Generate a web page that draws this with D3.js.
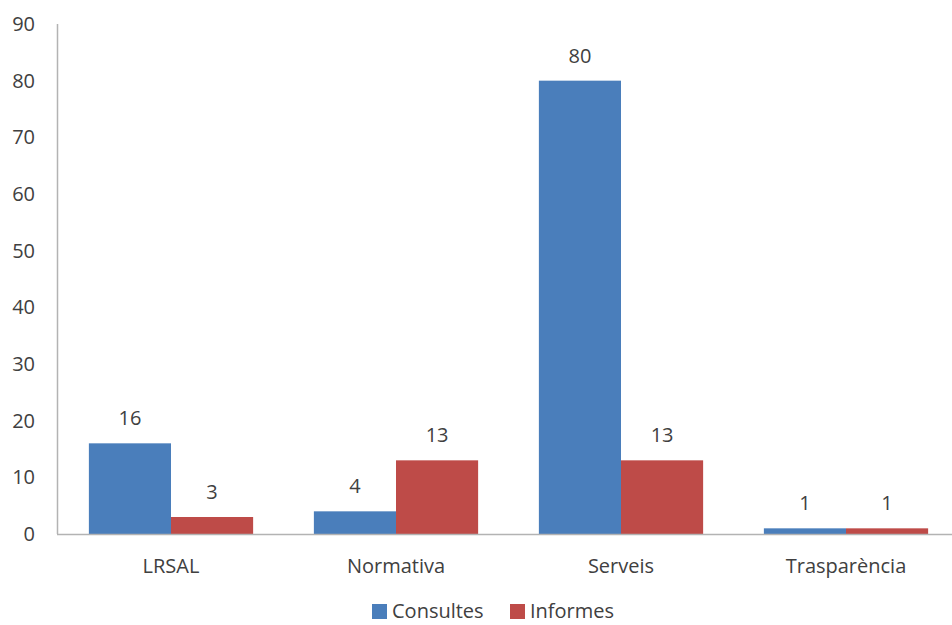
<!DOCTYPE html>
<html>
<head>
<meta charset="utf-8">
<script src="https://cdn.jsdelivr.net/npm/d3@7"></script>
<style>
  body { margin: 0; background: #fff; }
  text { font-family: "Open Sans", sans-serif; fill: #404040; }
</style>
</head>
<body>
<div id="chart"></div>
<script>
var categories = ["LRSAL", "Normativa", "Serveis", "Trasparència"];
var seriesNames = ["Consultes", "Informes"];
var consultes = [16, 4, 80, 1];
var informes = [3, 13, 13, 1];
var yTicks = [0, 10, 20, 30, 40, 50, 60, 70, 80, 90];
var colors = ["#4a7ebb", "#be4b48"];

var width = 952, height = 625;

var data = categories.map(function(c, i) {
  return {cat: c, values: [consultes[i], informes[i]]};
});

var svg = d3.select("#chart").append("svg")
  .attr("width", width)
  .attr("height", height);

// scales
var x0 = d3.scaleBand()
  .domain(categories)
  .range([58.5, 958.5])
  .paddingInner(0.27)
  .paddingOuter(0.135);
var x1 = d3.scaleBand()
  .domain(seriesNames)
  .range([0, x0.bandwidth()]);
var y = d3.scaleLinear()
  .domain([0, 90])
  .range([534, 24]);

// y axis
svg.append("line")
  .attr("x1", 57.5).attr("x2", 57.5)
  .attr("y1", y(90)).attr("y2", y(0))
  .attr("stroke", "#b3b3b3").attr("stroke-width", 1.5);

svg.selectAll(".ytick")
  .data(yTicks)
  .enter().append("text")
  .attr("class", "ytick")
  .attr("x", 35)
  .attr("y", function(d) { return y(d); })
  .attr("dy", "0.35em")
  .attr("text-anchor", "end")
  .style("font-size", "20px")
  .text(function(d) { return d; });

// bars
var groups = svg.selectAll(".grp")
  .data(data)
  .enter().append("g")
  .attr("class", "grp")
  .attr("transform", function(d) { return "translate(" + x0(d.cat) + ",0)"; });

groups.selectAll("rect")
  .data(function(d) { return d.values.map(function(v, i) { return {s: seriesNames[i], v: v, i: i}; }); })
  .enter().append("rect")
  .attr("x", function(d) { return x1(d.s); })
  .attr("width", x1.bandwidth())
  .attr("y", function(d) { return y(d.v); })
  .attr("height", function(d) { return y(0) - y(d.v); })
  .attr("fill", function(d) { return colors[d.i]; });

groups.selectAll(".val")
  .data(function(d) { return d.values.map(function(v, i) { return {s: seriesNames[i], v: v}; }); })
  .enter().append("text")
  .attr("class", "val")
  .attr("x", function(d) { return x1(d.s) + x1.bandwidth() / 2; })
  .attr("y", function(d) { return y(d.v) - 18; })
  .attr("text-anchor", "middle")
  .style("font-size", "20px")
  .text(function(d) { return d.v; });

// x axis
svg.append("line")
  .attr("x1", 57).attr("x2", width)
  .attr("y1", y(0) + 0.5).attr("y2", y(0) + 0.5)
  .attr("stroke", "#b3b3b3").attr("stroke-width", 1.5);

svg.selectAll(".xlab")
  .data(categories)
  .enter().append("text")
  .attr("class", "xlab")
  .attr("x", function(d) { return x0(d) + x0.bandwidth() / 2; })
  .attr("y", 573)
  .attr("text-anchor", "middle")
  .style("font-size", "20px")
  .text(function(d) { return d; });

// legend
var legX = [372, 510];
var leg = svg.selectAll(".leg")
  .data(seriesNames)
  .enter().append("g")
  .attr("class", "leg")
  .attr("transform", function(d, i) { return "translate(" + legX[i] + ",604)"; });
leg.append("rect")
  .attr("width", 15).attr("height", 15)
  .attr("fill", function(d, i) { return colors[i]; });
leg.append("text")
  .attr("x", 20).attr("y", 14)
  .style("font-size", "20px")
  .text(function(d) { return d; });
</script>
</body>
</html>
